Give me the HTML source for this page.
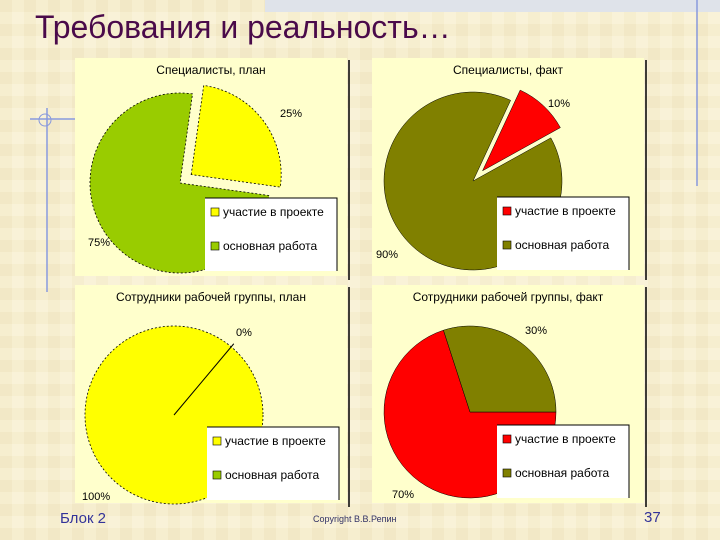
<!DOCTYPE html>
<html><head><meta charset="utf-8"><style>
body{margin:0;width:720px;height:540px;overflow:hidden;background:#f7efd2;font-family:"Liberation Sans",sans-serif}
svg{display:block}
</style></head><body>
<svg id="s" width="720" height="540" xmlns="http://www.w3.org/2000/svg">
<defs>
<pattern id="tex" width="24" height="24" patternUnits="userSpaceOnUse">
<rect width="24" height="24" fill="#f6eecf"/><rect x="0" y="0" width="12" height="12" fill="#f2e8c6"/><rect x="12" y="12" width="12" height="12" fill="#f9f2d8"/>
</pattern>
</defs>
<rect width="720" height="540" fill="url(#tex)"/>
<rect x="265" y="0" width="455" height="12" fill="#dfe3ea"/>
<text x="35" y="38" font-size="32" fill="#4a0a4a">Требования и реальность…</text>
<line x1="47" y1="108" x2="47" y2="292" stroke="#8899dd" stroke-width="1.5"/>
<line x1="30" y1="119" x2="76" y2="119" stroke="#8899dd" stroke-width="1.5"/>
<circle cx="45" cy="120" r="6" fill="none" stroke="#8899dd"/>
<line x1="697" y1="0" x2="697" y2="186" stroke="#8899dd" stroke-width="1.5"/>
<g id="charts"></g>
<text x="60" y="523" font-size="15" fill="#333399">Блок 2</text>
<text x="313" y="522" font-size="9" fill="#333366">Copyright В.В.Репин</text>
<text x="644" y="522" font-size="15" fill="#333399">37</text>
</svg>
<script>
const titles=["Специалисты, план","Специалисты, факт","Сотрудники рабочей группы, план","Сотрудники рабочей группы, факт"];
const seriesNames=["участие в проекте","основная работа"];
const valsA=[25,75];
const valsB=[10,90];
const valsC=[0,100];
const valsD=[70,30];
const labelsA=["25%","75%"];
const labelsB=["10%","90%"];
const labelsC=["0%","100%"];
const labelsD=["70%","30%"];
const NS="http://www.w3.org/2000/svg";
const g=document.getElementById('charts');
function mk(t,a,p){const e=document.createElementNS(NS,t);for(const k in a)e.setAttribute(k,a[k]);(p||g).appendChild(e);return e;}
const cfg=[
 {x:75,y:58,cx:180,cy:183,r:90,start:8,vals:valsA,labels:labelsA,colors:["#ffff00","#99cc00"],explode:[1,0],dash:true,lab:[[280,117],[88,246]],lx:205,ly:198},
 {x:372,y:58,cx:473,cy:181,r:89,start:25,vals:valsB,labels:labelsB,colors:["#ff0000","#808000"],explode:[1,0],dash:false,lab:[[548,107],[376,258]],lx:497,ly:197},
 {x:75,y:285,cx:174,cy:415,r:89,start:40,vals:valsC,labels:labelsC,colors:["#ffff00","#ffff00"],explode:[0,0],dash:true,lab:[[236,336],[82,500]],lx:207,ly:427},
 {x:372,y:285,cx:470,cy:412,r:86,start:90,vals:valsD,labels:labelsD,colors:["#ff0000","#808000"],explode:[0,0],dash:false,lab:[[392,498],[525,334]],lx:497,ly:425}
];
cfg.forEach((c,i)=>{
 const bg=mk('rect',{x:c.x,y:c.y,width:272,height:218,fill:'#ffffcc'});
 
 
 const bl=mk('line',{x1:c.x+274,y1:c.y+2,x2:c.x+274,y2:c.y+222,stroke:'#000','stroke-width':1.5});
 
 
 const tt=mk('text',{x:c.x+136,y:c.y+16,'font-size':12,'text-anchor':'middle',fill:'#000'});
 tt.textContent=titles[i];
 
 
 const tot=c.vals.reduce((a,b)=>a+b,0);
 let ang=c.start;
 const zeros=[];
 c.vals.forEach((v,j)=>{
  const sweep=v/tot*360;
  const a0=ang, a1=ang+sweep; ang=a1;
  if(sweep<=0){zeros.push(a0);return;}
  const mid=(a0+a1)/2*Math.PI/180;
  const off=c.explode[j]?14:0;
  const ox=c.cx+off*Math.sin(mid), oy=c.cy-off*Math.cos(mid);
  let el;
  const st={fill:c.colors[j],stroke:'#000','stroke-width':c.dash?0.8:0.5};
  if(c.dash)st['stroke-dasharray']='2,2';
  if(sweep>=359.99){
   el=mk('circle',Object.assign({cx:ox,cy:oy,r:c.r},st));
  } else {
   const r0=a0*Math.PI/180,r1=a1*Math.PI/180;
   const x0=ox+c.r*Math.sin(r0),y0=oy-c.r*Math.cos(r0),x1=ox+c.r*Math.sin(r1),y1=oy-c.r*Math.cos(r1);
   el=mk('path',Object.assign({d:`M${ox},${oy}L${x0},${y0}A${c.r},${c.r} 0 ${sweep>180?1:0} 1 ${x1},${y1}Z`},st));
  }
  
  
 });
 zeros.forEach(a0=>{
  const rad=a0*Math.PI/180;
  const ln=mk('line',{x1:c.cx,y1:c.cy,x2:c.cx+(c.r+4)*Math.sin(rad),y2:c.cy-(c.r+4)*Math.cos(rad),stroke:'#000','stroke-width':1});
  
  
 });
 c.labels.forEach((l,j)=>{
  const lt=mk('text',{x:c.lab[j][0],y:c.lab[j][1],'font-size':11,fill:'#000'});
  lt.textContent=l;
  
  
 });
 const lg=mk('g',{});
 
 
 mk('rect',{x:c.lx,y:c.ly,width:132,height:73,fill:'#fff'},lg);
 mk('path',{d:`M${c.lx},${c.ly}H${c.lx+132}V${c.ly+73}`,fill:'none',stroke:'#000','stroke-width':1},lg);
 const lc=[c.colors[0],c.colors[1]];
 if(i==2)lc[1]='#99cc00';
 seriesNames.forEach((n,j)=>{
  const yy=c.ly+18+j*34;
  const sw=mk('rect',{x:c.lx+6,y:yy-8,width:8,height:8,fill:lc[j],stroke:'#000','stroke-width':0.6},lg);
  
  
  const tx=mk('text',{x:c.lx+18,y:yy,'font-size':12,fill:'#000'},lg);
  tx.textContent=n;
  
  
 });
});
</script>
</body></html>
